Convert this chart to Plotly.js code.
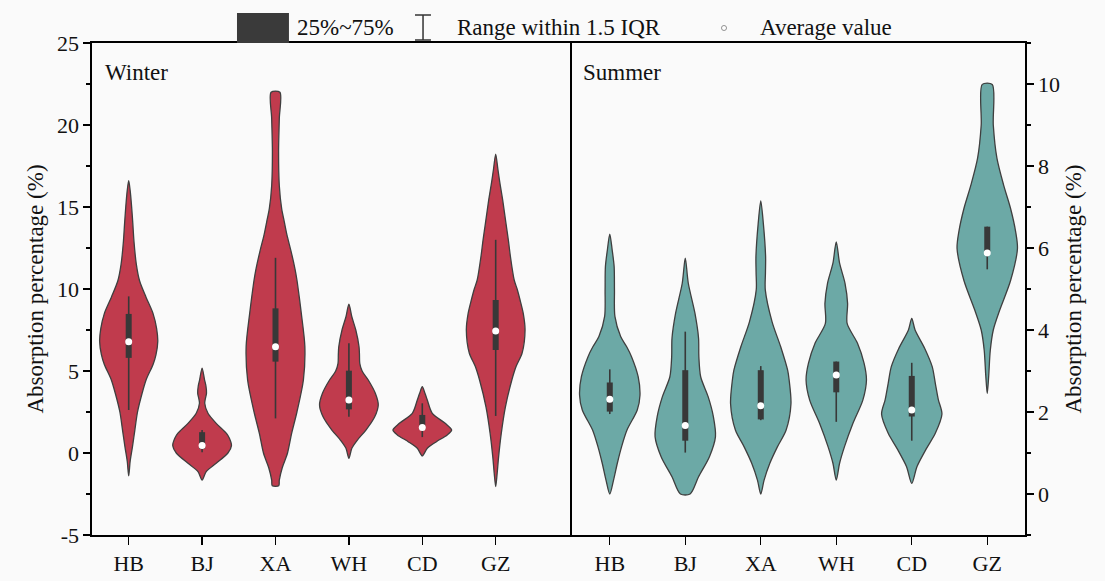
<!DOCTYPE html>
<html>
<head>
<meta charset="utf-8">
<script src="https://cdn.plot.ly/plotly-3.0.1.min.js"></script>
<style>html,body{margin:0;padding:0;background:#fafafa;}#chart{width:1105px;height:581px;}</style>
</head>
<body>
<div id="chart"></div>
<script>
// ---------------- data ----------------
const cats = ['HB', 'BJ', 'XA', 'WH', 'CD', 'GZ'];

// Winter density profiles (y level, relative density, max = 1)
const winterHB_y = [-1.4, -0.5, 0.4, 1.4, 2.5, 3.6, 4.5, 5.4, 6.0, 6.8, 7.6, 8.5, 9.5, 10.5, 11.5, 12.9, 14.0, 15.0, 16.0, 16.6];
const winterHB_d = [0, 0.05, 0.13, 0.21, 0.30, 0.45, 0.60, 0.83, 0.93, 0.99, 0.95, 0.83, 0.59, 0.37, 0.26, 0.18, 0.14, 0.10, 0.05, 0];
const winterBJ_y = [-1.65, -1.14, -0.63, 0.0, 0.45, 0.9, 1.2, 1.81, 2.42, 3.03, 3.3, 3.64, 4.1, 4.45, 5.18];
const winterBJ_d = [0, 0.14, 0.48, 0.88, 1.0, 0.93, 0.83, 0.48, 0.2, 0.09, 0.11, 0.15, 0.13, 0.085, 0];
const winterXA_y = [-2.0, -1.65, -0.9, 0.0, 1.2, 2.5, 4.45, 6.5, 8.5, 9.5, 10.55, 11.26, 12.3, 13.3, 14.1, 14.9, 16.3, 18.4, 20.4, 22.0];
const winterXA_d = [0.11, 0.13, 0.23, 0.41, 0.55, 0.73, 0.95, 1.0, 0.88, 0.81, 0.73, 0.66, 0.53, 0.39, 0.30, 0.21, 0.13, 0.105, 0.13, 0.15];
const winterWH_y = [-0.32, 0.29, 0.79, 1.4, 2.21, 2.93, 3.64, 4.45, 5.0, 5.47, 6.0, 6.48, 7.5, 8.31, 9.08];
const winterWH_d = [0, 0.1, 0.29, 0.58, 0.88, 1.0, 0.9, 0.66, 0.45, 0.37, 0.36, 0.345, 0.235, 0.1, 0];
const winterCD_y = [-0.18, 0.29, 0.69, 1.1, 1.4, 1.81, 2.42, 3.23, 3.64, 4.04];
const winterCD_d = [0, 0.17, 0.48, 0.85, 1.0, 0.78, 0.34, 0.17, 0.09, 0];
const winterGZ_y = [-2.05, -1.24, -0.22, 1.2, 2.8, 4.45, 5.3, 6.1, 7.5, 8.5, 9.33, 10.0, 10.55, 12.0, 13.0, 14.0, 15.4, 16.5, 17.3, 18.23];
const winterGZ_d = [0, 0.05, 0.1, 0.19, 0.33, 0.55, 0.7, 0.9, 1.0, 0.94, 0.83, 0.73, 0.63, 0.5, 0.43, 0.35, 0.24, 0.14, 0.075, 0];

// Summer density profiles
const summerHB_y = [0, 0.34, 0.75, 1.15, 1.56, 2.05, 2.41, 2.86, 3.35, 3.59, 3.84, 4.33, 4.98, 5.54, 5.95, 6.34];
const summerHB_d = [0, 0.125, 0.25, 0.39, 0.57, 0.91, 1.0, 0.94, 0.72, 0.56, 0.36, 0.17, 0.155, 0.145, 0.08, 0];
const summerBJ_y = [0.0, 0.42, 0.91, 1.4, 1.89, 2.37, 2.86, 3.35, 3.8, 4.41, 5.14, 5.75];
const summerBJ_d = [0.16, 0.44, 0.8, 1.0, 0.93, 0.76, 0.51, 0.45, 0.44, 0.32, 0.1, 0];
const summerXA_y = [0, 0.34, 0.75, 1.15, 1.56, 2.2, 2.78, 3.02, 3.59, 4.2, 4.98, 5.4, 5.79, 6.6, 7.15];
const summerXA_d = [0, 0.11, 0.3, 0.55, 0.84, 1.0, 0.94, 0.89, 0.66, 0.375, 0.15, 0.155, 0.16, 0.085, 0];
const summerWH_y = [0.34, 0.75, 1.15, 1.72, 2.29, 2.78, 3.19, 3.68, 4.16, 4.65, 5.14, 5.63, 6.15];
const summerWH_d = [0, 0.11, 0.27, 0.55, 0.88, 1.0, 0.92, 0.7, 0.36, 0.375, 0.29, 0.11, 0];
const summerCD_y = [0.26, 0.67, 1.1, 1.48, 1.95, 2.3, 2.7, 3.1, 3.55, 4.0, 4.28];
const summerCD_d = [0, 0.175, 0.48, 0.78, 1.0, 0.88, 0.78, 0.68, 0.43, 0.11, 0];
const summerGZ_y = [2.45, 2.9, 3.5, 4.0, 4.5, 5.2, 5.99, 6.4, 6.97, 7.54, 8.19, 9.0, 9.99];
const summerGZ_d = [0, 0.05, 0.1, 0.2, 0.42, 0.77, 1.0, 0.94, 0.77, 0.54, 0.32, 0.2, 0.165];

// Box statistics
const winterQ1 = [5.8, 0.25, 5.57, 2.66, 1.4, 6.28];
const winterQ3 = [8.48, 1.27, 8.82, 5.02, 2.32, 9.33];
const winterLo = [2.62, 0.05, 2.11, 2.21, 0.97, 2.26];
const winterHi = [9.55, 1.4, 11.9, 6.69, 3.03, 13.0];
const winterMean = [6.78, 0.45, 6.48, 3.23, 1.55, 7.44];

const summerQ1 = [2.01, 1.3, 1.82, 2.48, 1.89, 5.9];
const summerQ3 = [2.72, 3.02, 3.02, 3.23, 2.88, 6.52];
const summerLo = [1.95, 1.01, 1.8, 1.76, 1.3, 5.48];
const summerHi = [3.04, 3.96, 3.12, 3.23, 3.2, 6.52];
const summerMean = [2.31, 1.67, 2.15, 2.9, 2.05, 5.88];

// Axis ticks
const winterTicks = [-5, 0, 5, 10, 15, 20, 25];
const summerTicks = [0, 2, 4, 6, 8, 10];

// ---------------- drawing ----------------
const HALF_W = 0.40;
const FONT = 'Liberation Serif, Times New Roman, serif';
const RED = '#c03b4d';
const TEAL = '#6ca9a6';
const EDGE = '#3f3f3f';
const BOXC = '#383838';

const winterProfiles = [[winterHB_y, winterHB_d], [winterBJ_y, winterBJ_d], [winterXA_y, winterXA_d],
  [winterWH_y, winterWH_d], [winterCD_y, winterCD_d], [winterGZ_y, winterGZ_d]];
const summerProfiles = [[summerHB_y, summerHB_d], [summerBJ_y, summerBJ_d], [summerXA_y, summerXA_d],
  [summerWH_y, summerWH_d], [summerCD_y, summerCD_d], [summerGZ_y, summerGZ_d]];

function violin(c, ys, ds, xa, ya, color) {
  const xs = [], yy = [];
  const n = ys.length;
  for (let i = 0; i < n; i++) { xs.push(c + ds[i] * HALF_W); yy.push(ys[i]); }
  for (let i = n - 1; i >= 0; i--) {
    if (i === n - 1 && ds[i] === 0) continue;
    if (i === 0 && ds[i] === 0) { xs.push(c); yy.push(ys[0]); continue; }
    xs.push(c - ds[i] * HALF_W); yy.push(ys[i]);
  }
  if (ds[0] > 0) { xs.push(xs[0]); yy.push(yy[0]); }
  return {
    type: 'scatter', mode: 'lines', x: xs, y: yy, xaxis: xa, yaxis: ya,
    fill: 'toself', fillcolor: color,
    line: {color: EDGE, width: 1.3, shape: 'spline', smoothing: 0.8},
    hoverinfo: 'skip', showlegend: false
  };
}

function boxes(q1, q3, lo, hi, mean, xa, ya) {
  const wx = [], wy = [], bx = [], by = [];
  for (let i = 0; i < q1.length; i++) {
    wx.push(i, i, null); wy.push(lo[i], hi[i], null);
    bx.push(i, i, null); by.push(q1[i], q3[i], null);
  }
  return [
    {type: 'scatter', mode: 'lines', x: wx, y: wy, xaxis: xa, yaxis: ya,
     line: {color: BOXC, width: 1.6}, hoverinfo: 'skip', showlegend: false},
    {type: 'scatter', mode: 'lines', x: bx, y: by, xaxis: xa, yaxis: ya,
     line: {color: BOXC, width: 6}, hoverinfo: 'skip', showlegend: false},
    {type: 'scatter', mode: 'markers', x: cats.map((_, i) => i), y: mean, xaxis: xa, yaxis: ya,
     marker: {color: '#ffffff', size: 7, line: {width: 0}}, hoverinfo: 'skip', showlegend: false}
  ];
}

const traces = [];
winterProfiles.forEach((p, i) => traces.push(violin(i, p[0], p[1], 'x', 'y', RED)));
summerProfiles.forEach((p, i) => traces.push(violin(i, p[0], p[1], 'x2', 'y2', TEAL)));
traces.push(...boxes(winterQ1, winterQ3, winterLo, winterHi, winterMean, 'x', 'y'));
traces.push(...boxes(summerQ1, summerQ3, summerLo, summerHi, summerMean, 'x2', 'y2'));

const axisCommon = {
  showline: true, linecolor: '#000', linewidth: 1.6, mirror: true,
  ticks: 'outside', tickcolor: '#000', tickwidth: 1.4,
  showgrid: false, zeroline: false,
  tickfont: {family: FONT, size: 22, color: '#111'}
};
const split = 0.5145;
const TXT = {family: FONT, size: 23, color: '#111'};

const layout = {
  width: 1105, height: 581,
  paper_bgcolor: '#fafafa', plot_bgcolor: '#fafafa',
  font: {family: FONT, size: 22, color: '#111'},
  margin: {l: 92, r: 80, t: 43, b: 46},
  showlegend: false,
  xaxis: Object.assign({}, axisCommon, {
    domain: [0, split], range: [-0.5, 6.04], anchor: 'y',
    tickmode: 'array', tickvals: cats.map((_, i) => i), ticktext: cats, ticklen: 8
  }),
  yaxis: Object.assign({}, axisCommon, {
    range: [-5, 25], anchor: 'x', mirror: false,
    tickmode: 'array', tickvals: winterTicks, ticktext: winterTicks.map(String), ticklen: 7,
    minor: {tickmode: 'linear', tick0: 0, dtick: 2.5, ticks: 'outside', ticklen: 4, tickcolor: '#000', tickwidth: 1.2},
    title: {text: 'Absorption percentage (%)', font: {family: FONT, size: 23, color: '#111'}, standoff: 7}
  }),
  xaxis2: Object.assign({}, axisCommon, {
    domain: [split, 1], range: [-0.5, 5.5], anchor: 'y2',
    tickmode: 'array', tickvals: cats.map((_, i) => i), ticktext: cats, ticklen: 8
  }),
  yaxis2: Object.assign({}, axisCommon, {
    range: [-1, 11], anchor: 'x2', side: 'right',
    tickmode: 'array', tickvals: summerTicks, ticktext: summerTicks.map(String), ticklen: 7,
    minor: {tickmode: 'linear', tick0: 0, dtick: 1, ticks: 'outside', ticklen: 4, tickcolor: '#000', tickwidth: 1.2},
    title: {text: 'Absorption percentage (%)', font: {family: FONT, size: 23, color: '#111'}, standoff: 6}
  }),
  annotations: [
    {xref: 'paper', yref: 'paper', x: 0.0118, y: 0.941, xanchor: 'left', yanchor: 'middle',
     text: 'Winter', showarrow: false, font: TXT},
    {xref: 'paper', yref: 'paper', x: 0.5238, y: 0.941, xanchor: 'left', yanchor: 'middle',
     text: 'Summer', showarrow: false, font: TXT},
    {xref: 'paper', yref: 'paper', x: 0.2176, y: 1.0305, xanchor: 'left', yanchor: 'middle',
     text: '25%~75%', showarrow: false, font: TXT},
    {xref: 'paper', yref: 'paper', x: 0.389, y: 1.0305, xanchor: 'left', yanchor: 'middle',
     text: 'Range within 1.5 IQR', showarrow: false, font: TXT},
    {xref: 'paper', yref: 'paper', x: 0.7138, y: 1.0305, xanchor: 'left', yanchor: 'middle',
     text: 'Average value', showarrow: false, font: TXT}
  ],
  shapes: [
    {type: 'rect', xref: 'paper', yref: 'paper', x0: 0.1554, x1: 0.2111, y0: 1.0, y1: 1.061,
     fillcolor: '#3a3a3a', line: {width: 0}},
    {type: 'line', xref: 'paper', yref: 'paper', x0: 0.3548, x1: 0.3548, y0: 1.0061, y1: 1.0569,
     line: {color: '#333', width: 1.5}},
    {type: 'line', xref: 'paper', yref: 'paper', x0: 0.3462, x1: 0.3633, y0: 1.0061, y1: 1.0061,
     line: {color: '#333', width: 1.5}},
    {type: 'line', xref: 'paper', yref: 'paper', x0: 0.3462, x1: 0.3633, y0: 1.0569, y1: 1.0569,
     line: {color: '#333', width: 1.5}},
    {type: 'circle', xref: 'paper', yref: 'paper', x0: 0.6747, x1: 0.6801, y0: 1.0254, y1: 1.0356,
     fillcolor: '#ffffff', line: {color: '#777', width: 0.8}}
  ]
};

Plotly.newPlot('chart', traces, layout, {displayModeBar: false, staticPlot: true});
</script>
</body>
</html>
